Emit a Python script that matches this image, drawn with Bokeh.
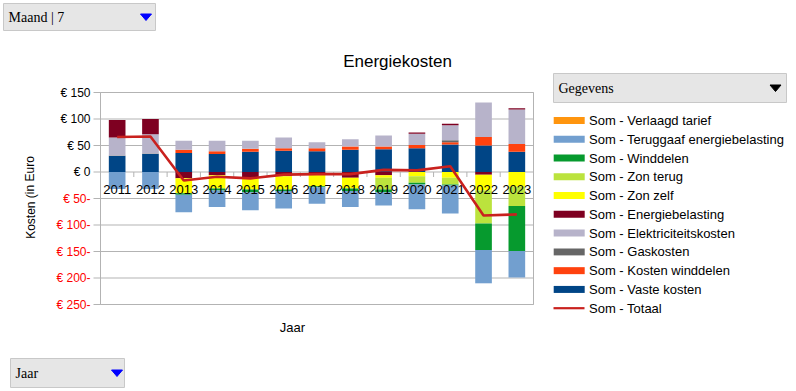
from bokeh.plotting import figure
from bokeh.models import ColumnDataSource, Range1d
from bokeh.embed import file_html
from bokeh.resources import INLINE
from bokeh.core.properties import value

years = ["2011", "2012", "2013", "2014", "2015", "2016", "2017",
         "2018", "2019", "2020", "2021", "2022", "2023"]

vaste_kosten = [30, 34, 36, 34, 38, 40, 39, 42, 43, 45, 52, 50, 38]
kosten_winddelen = [0, 0, 6, 5, 6, 5, 6, 6, 5, 6, 4, 16, 15]
gaskosten = [1, 1, 0, 0, 0, 0, 0, 0, 0, 0, 4, 0, 0]
elektriciteitskosten = [34, 36, 17, 20, 15, 20, 11, 14, 21, 21, 28, 65, 65]
energiebelasting = [33, 29, -12, -6, -11, -8, -3, -11, -6, 2.5, 3, -5, 2.5]
zon_zelf = [0, 0, -28, -25, -22, -25, -24, -20, -5, -8, -11, -30, -28]
zon_terug = [0, 0, 0, 0, 0, 0, 0, 0, -22, -12.5, -12.5, -62, -36]
winddelen = [0, 0, -3, -4, -5, -3, -2, -5, -5, -3, -2, -50, -85]
teruggaaf = [-32, -32, -33, -31, -34, -33, -31, -30, -25, -47, -53, -63, -50]
verlaagd_tarief = [0, 0, 0, 0, 0, 0, 0, 0, 0, 0, 0, 0, 0]
totaal = [66, 67, -16, -9, -12, -5, -4, -4, 4, 3, 11, -82, -80]

series_names = ["Vaste kosten", "Kosten winddelen", "Gaskosten", "Elektriciteitskosten",
                "Energiebelasting", "Zon zelf", "Zon terug", "Winddelen",
                "Teruggaaf energiebelasting", "Verlaagd tarief"]
series_values = [vaste_kosten, kosten_winddelen, gaskosten, elektriciteitskosten,
                 energiebelasting, zon_zelf, zon_terug, winddelen, teruggaaf, verlaagd_tarief]
series_colors = ["#004586", "#ff420e", "#666666", "#b7b3ca", "#7e0021",
                 "#ffff00", "#bbe33d", "#069a2e", "#729fcf", "#ff950e"]
totaal_name = "Totaal"
totaal_color = "#c9211e"

y_ticks = [-250, -200, -150, -100, -50, 0, 50, 100, 150]
y_tick_labels = ["€ 250-", "€ 200-", "€ 150-", "€ 100-", "€ 50-", "€ 0", "€ 50", "€ 100", "€ 150"]

FONT = "Liberation Sans"
SERIF = "Liberation Serif"
GRID = "#b3b3b3"

# ---- layout: whole canvas is the frame; chart area mapped to pixel box ----
W, H = 796, 391
PL, PR, PT, PB = 100, 533, 92, 304
ymin, ymax = y_ticks[0], y_ticks[-1]
n = len(years)
ux = (PR - PL) / n
uy = (PB - PT) / (ymax - ymin)


def X(px):
    return (px - PL) / ux


def Y(py):
    return ymax - (py - PT) / uy


p = figure(width=W, height=H, x_range=Range1d(X(0), X(W)), y_range=Range1d(Y(H), Y(0)),
           x_axis_location=None, y_axis_location=None, min_border=0,
           output_backend="svg", toolbar_location=None)
p.grid.visible = False
p.outline_line_color = None

xc = [i + 0.5 for i in range(n)]
data = {"x": xc, "year": years, "totaal": totaal}
pos_keys, neg_keys = [], []
for i, vals in enumerate(series_values):
    data[f"p{i}"] = [max(v, 0) for v in vals]
    data[f"n{i}"] = [min(v, 0) for v in vals]
    pos_keys.append(f"p{i}")
    neg_keys.append(f"n{i}")
src = ColumnDataSource(data)

# grid lines, frame, axis ticks
p.segment(x0=[0] * len(y_ticks), x1=[n] * len(y_ticks), y0=y_ticks, y1=y_ticks,
          line_color=GRID, line_width=1)
p.quad(left=0, right=n, bottom=ymin, top=ymax, fill_color=None, line_color=GRID, line_width=1)
p.segment(x0=[X(PL - 7)] * len(y_ticks), x1=[0] * len(y_ticks), y0=y_ticks, y1=y_ticks,
          line_color=GRID, line_width=1)

# stacked bars (positive and negative parts stacked separately)
pos_r = p.vbar_stack(pos_keys, x="x", width=0.5, color=series_colors, line_color=None, source=src)
neg_r = p.vbar_stack(neg_keys, x="x", width=0.5, color=series_colors, line_color=None, source=src)

# category ticks on the zero line
bx = list(range(1, n))
p.segment(x0=bx, x1=bx, y0=[0] * len(bx), y1=[-5 / uy] * len(bx), line_color=GRID, line_width=1)

# year labels
p.text(x="x", y=0, text="year", source=src, text_font=value(FONT), text_font_size="13px",
       text_align="center", text_baseline="middle", y_offset=17, text_color="black")

# total line
p.line(x="x", y="totaal", source=src, line_color=totaal_color, line_width=2.6)

# y tick labels
ysrc = ColumnDataSource(dict(y=y_ticks, text=y_tick_labels,
                             color=["#ff0000" if v < 0 else "black" for v in y_ticks]))
p.text(x=X(90), y="y", text="text", source=ysrc, text_color="color", text_font=value(FONT),
       text_font_size="12px", text_align="right", text_baseline="middle")

# titles
p.text(x=[X(397)], y=[Y(61)], text=["Energiekosten"], text_font=value(FONT),
       text_font_size="17px", text_align="center", text_baseline="middle", text_color="black")
p.text(x=[X(292)], y=[Y(327)], text=["Jaar"], text_font=value(FONT),
       text_font_size="13px", text_align="center", text_baseline="middle", text_color="black")
p.text(x=[X(30)], y=[Y(197)], text=["Kosten (in Euro"], text_font=value(FONT),
       text_font_size="12px", text_align="center", text_baseline="middle", angle=1.5708,
       text_color="black")

# legend (drawn from the series lists, top item = last series)
order = list(reversed(range(len(series_names))))
step = 18.77
leg_y = [120 + k * step for k in range(len(order) + 1)]
p.rect(x=[X(568.7)] * len(order), y=[Y(v) for v in leg_y[:len(order)]], width=31, height=7,
       width_units="screen", height_units="screen",
       fill_color=[series_colors[i] for i in order], line_color=None)
leg_labels = ["Som - " + series_names[i] for i in order] + ["Som - " + totaal_name]
p.text(x=[X(588.5)] * len(leg_labels), y=[Y(v) for v in leg_y], text=leg_labels,
       text_font=value(FONT), text_font_size="13px", text_align="left",
       text_baseline="middle", text_color="black")
p.segment(x0=[X(553)], x1=[X(584)], y0=[Y(leg_y[-1])], y1=[Y(leg_y[-1])],
          line_color=totaal_color, line_width=2.2)


# dropdown fields
def dropdown(l, t, r, b, label, tri_color, tri_cx):
    p.quad(left=[X(l)], right=[X(r)], top=[Y(t)], bottom=[Y(b)], fill_color="#e6e6e6",
           line_color="#c8c8c8", line_width=1)
    cy = (t + b) / 2
    p.text(x=[X(l + 5)], y=[Y(cy + 0.5)], text=[label], text_font=value(SERIF),
           text_font_size="14px", text_align="left", text_baseline="middle",
           text_color="black")
    p.patch(x=[X(tri_cx - 5.5), X(tri_cx + 5.5), X(tri_cx)],
            y=[Y(cy - 3), Y(cy - 3), Y(cy + 3.5)], fill_color=tri_color, line_color=tri_color)


dropdown(3, 3, 155, 30, "Maand | 7", "#0000ff", 145.5)
dropdown(553, 73, 786, 102, "Gegevens", "black", 775)
dropdown(10, 358, 124, 387, "Jaar", "#0000ff", 116.5)

open("out.html", "w").write(file_html(p, INLINE))
